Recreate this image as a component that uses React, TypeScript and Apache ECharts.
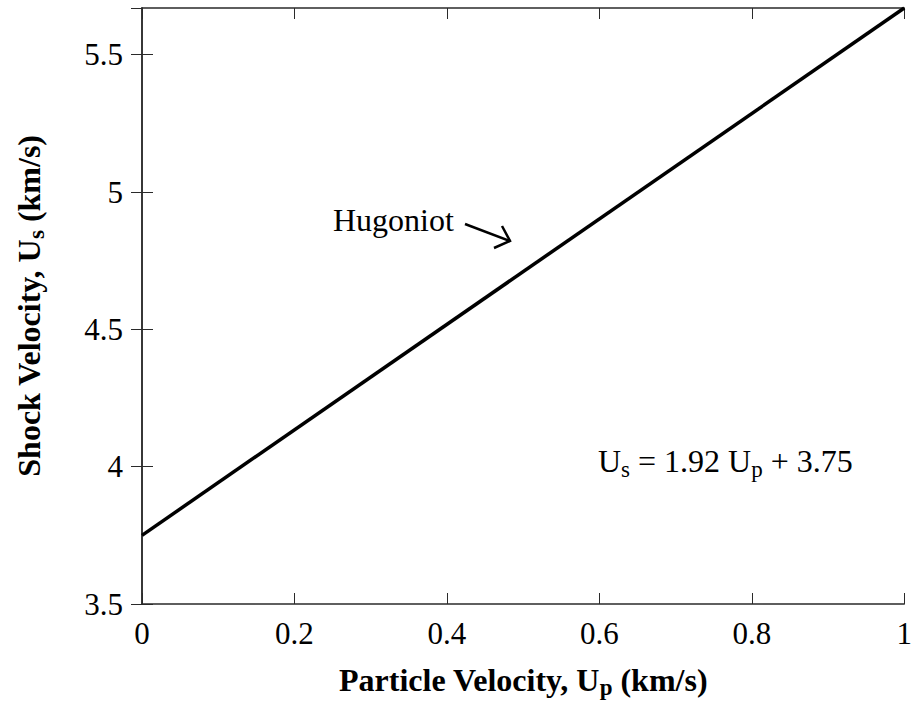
import React, { useEffect, useRef } from "react";
import * as echarts from "echarts";

// Hugoniot fit: Us = 1.92 Up + 3.75, evaluated at the ends of the plotted range
const particleVelocity = [0, 1];
const shockVelocity = [3.75, 5.67];

const xTicks = { min: 0, max: 1, interval: 0.2 };
const yTicks = { min: 3.5, max: 5.67, interval: 0.5 };

const FONT = "'Liberation Serif', 'Times New Roman', Times, serif";
const INK = "#000";
const FRAME = "#2a2a2a";

export default function App() {
  const ref = useRef<HTMLDivElement>(null);

  useEffect(() => {
    if (!ref.current) return;
    const chart = echarts.init(ref.current, undefined, { renderer: "svg" });

    const titleRich = {
      a: { fontFamily: FONT, fontSize: 32, fontWeight: "bold", color: INK },
      s: { fontFamily: FONT, fontSize: 23, fontWeight: "bold", color: INK, padding: [16, 0, 0, 0] },
    };
    const noteRich = {
      a: { fontFamily: FONT, fontSize: 32, color: INK },
      s: { fontFamily: FONT, fontSize: 23, color: INK, padding: [16, 0, 0, 0] },
    };

    const tickStyle = { show: true, inside: true, length: 11, lineStyle: { color: FRAME, width: 1 } };
    const lineStyle = { show: true, lineStyle: { color: FRAME, width: 1.5 } };
    const labelStyle = { fontFamily: FONT, fontSize: 31, color: INK };

    const data = particleVelocity.map((x, i) => [x, shockVelocity[i]]);

    chart.setOption({
      animation: false,
      backgroundColor: "#fff",
      grid: { left: 142, right: 10, top: 8, bottom: 102, containLabel: false },
      xAxis: [
        {
          type: "value",
          position: "bottom",
          ...xTicks,
          axisLine: lineStyle,
          axisTick: tickStyle,
          splitLine: { show: false },
          axisLabel: { ...labelStyle, margin: 14 },
          name: "{a|Particle Velocity, U}{s|p}{a| (km/s)}",
          nameLocation: "middle",
          nameGap: 56,
          nameTextStyle: { rich: titleRich },
        },
        {
          type: "value",
          position: "top",
          ...xTicks,
          axisLine: lineStyle,
          axisTick: tickStyle,
          splitLine: { show: false },
          axisLabel: { show: false },
        },
      ],
      yAxis: [
        {
          type: "value",
          position: "left",
          ...yTicks,
          axisLine: lineStyle,
          axisTick: tickStyle,
          splitLine: { show: false },
          axisLabel: { ...labelStyle, margin: 19, showMaxLabel: false },
          name: "{a|Shock Velocity, U}{s|s}{a| (km/s)}",
          nameLocation: "middle",
          nameGap: 94,
          nameRotate: 90,
          nameTextStyle: { rich: titleRich },
        },
        {
          type: "value",
          position: "right",
          ...yTicks,
          axisLine: lineStyle,
          axisTick: tickStyle,
          splitLine: { show: false },
          axisLabel: { show: false },
        },
      ],
      series: [
        {
          type: "line",
          xAxisIndex: 0,
          yAxisIndex: 0,
          data,
          symbol: "none",
          lineStyle: { color: INK, width: 3.5 },
          silent: true,
        },
      ],
      graphic: [
        {
          type: "text",
          left: 333,
          top: 204,
          style: { text: "Hugoniot", fontFamily: FONT, fontSize: 32, fill: INK },
        },
        {
          type: "line",
          shape: { x1: 465, y1: 224, x2: 510, y2: 241 },
          style: { stroke: INK, lineWidth: 2.5 },
        },
        {
          type: "polyline",
          shape: { points: [[502, 226], [510, 241], [494, 248]] },
          style: { stroke: INK, lineWidth: 2.5, fill: null },
        },
        {
          type: "text",
          left: 598,
          top: 445,
          style: {
            text: "{a|U}{s|s}{a| = 1.92 U}{s|p}{a| + 3.75}",
            rich: noteRich,
          },
        },
      ],
    });

    return () => chart.dispose();
  }, []);

  return (
    <div
      ref={ref}
      style={{ position: "fixed", left: 0, top: 0, width: 915, height: 706, background: "#fff" }}
    />
  );
}
